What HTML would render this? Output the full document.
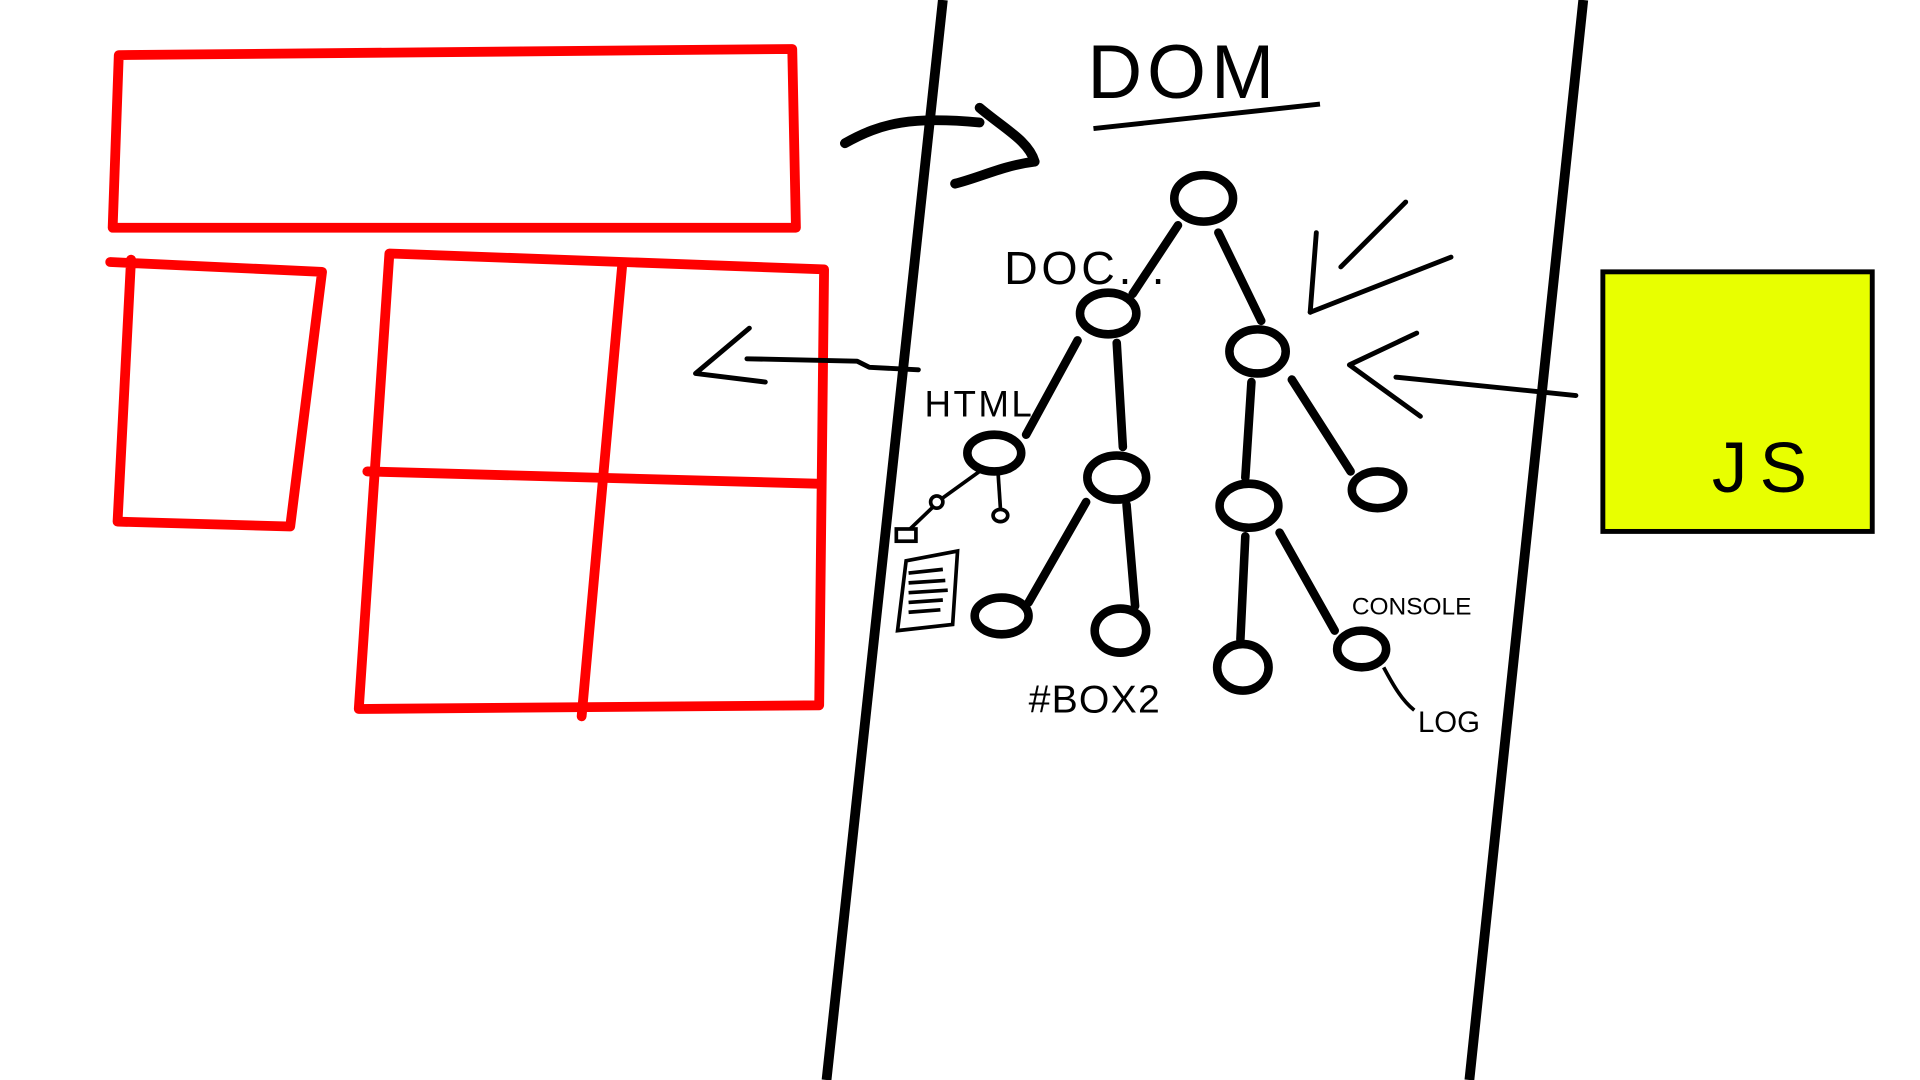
<!DOCTYPE html>
<html><head><meta charset="utf-8">
<style>
html,body{margin:0;padding:0;background:#fff;width:1920px;height:1080px;overflow:hidden}
svg{display:block}
text{font-family:"Liberation Sans",sans-serif;fill:#000}
</style></head>
<body>
<svg width="1920" height="1080" viewBox="0 0 1568 882" xmlns="http://www.w3.org/2000/svg">
<g fill="none" stroke="#ff0000" stroke-width="8" stroke-linejoin="round" stroke-linecap="round">
  <path d="M97 45 L647 40 L650 186 L92 186 Z"/>
  <path d="M90 214 L263 222 L237 430 L96 426 L107 212"/>
  <path d="M318 207 L673 220 L669 576 L293 579 Z"/>
  <path d="M300 385 L667 395"/>
  <path d="M508 218 L475 585"/>
</g>
<g stroke="#000" stroke-width="8" fill="none">
  <path d="M770 0 L675 882"/>
  <path d="M1293 0 L1200 882"/>
</g>
<g stroke="#000" stroke-width="8" fill="none" stroke-linecap="round" stroke-linejoin="round">
  <path d="M690 117 C720 100 745 95 800 100"/>
  <path d="M800 88 C820 105 840 115 845 132 C820 135 800 145 780 150"/>
</g>
<text x="888" y="80" font-size="62" letter-spacing="4">DOM</text>
<path d="M893 105 L1078 85" stroke="#000" stroke-width="4" fill="none"/>
<g stroke="#000" stroke-width="7" stroke-linecap="round">
  <line x1="962" y1="184" x2="925" y2="240"/>
  <line x1="995" y1="190" x2="1030" y2="262"/>
  <line x1="880" y1="278" x2="838" y2="355"/>
  <line x1="912" y1="280" x2="917" y2="365"/>
  <line x1="1022" y1="312" x2="1017" y2="390"/>
  <line x1="1055" y1="310" x2="1103" y2="385"/>
  <line x1="887" y1="410" x2="840" y2="492"/>
  <line x1="920" y1="412" x2="927" y2="495"/>
  <line x1="1017" y1="438" x2="1013" y2="522"/>
  <line x1="1045" y1="435" x2="1090" y2="515"/>
</g>
<g stroke="#000" stroke-width="7" fill="#fff">
  <ellipse cx="983" cy="162" rx="24" ry="19"/>
  <ellipse cx="905" cy="256" rx="23" ry="17"/>
  <ellipse cx="1027" cy="287" rx="23" ry="18"/>
  <ellipse cx="812" cy="370" rx="22" ry="15"/>
  <ellipse cx="912" cy="390" rx="24" ry="18"/>
  <ellipse cx="1020" cy="413" rx="24" ry="18"/>
  <ellipse cx="1125" cy="400" rx="21" ry="15"/>
  <ellipse cx="818" cy="503" rx="22" ry="15"/>
  <ellipse cx="915" cy="515" rx="21" ry="18"/>
  <ellipse cx="1015" cy="545" rx="21" ry="19"/>
  <ellipse cx="1112" cy="530" rx="20" ry="15"/>
</g>
<g stroke="#000" stroke-width="3" fill="#fff">
  <line x1="800" y1="385" x2="768" y2="408"/>
  <line x1="815" y1="385" x2="817" y2="415"/>
  <ellipse cx="817" cy="421" rx="6" ry="5"/>
  <ellipse cx="765" cy="410" rx="5" ry="5"/>
  <line x1="762" y1="414" x2="740" y2="435"/>
  <rect x="732" y="432" width="16" height="10"/>
  <path d="M740 458 L782 450 L778 510 L733 515 Z M742 468 L770 465 M742 476 L772 474 M742 484 L774 482 M742 492 L770 490 M742 500 L768 498" fill="none"/>
  <path d="M1130 545 C1138 560 1145 572 1155 580" fill="none"/>
</g>
<text x="820" y="232" font-size="38" letter-spacing="3">DOC...</text>
<text x="755" y="340" font-size="30" letter-spacing="2">HTML</text>
<text x="840" y="582" font-size="32" letter-spacing="1">#BOX2</text>
<text x="1104" y="502" font-size="20">CONSOLE</text>
<text x="1158" y="598" font-size="24">LOG</text>
<g stroke="#000" stroke-width="4" fill="none" stroke-linecap="round" stroke-linejoin="round">
  <path d="M610 293 L700 295 L710 300 L750 302"/>
  <path d="M612 268 L568 305 L625 312"/>
</g>
<g stroke="#000" stroke-width="4" fill="none" stroke-linecap="round" stroke-linejoin="round">
  <path d="M1140 308 L1287 323"/>
  <path d="M1157 272 L1102 298 L1160 340"/>
</g>
<g stroke="#000" stroke-width="4" fill="none" stroke-linecap="round">
  <path d="M1148 165 L1095 218"/>
  <path d="M1185 210 L1070 255"/>
  <path d="M1075 190 L1070 255"/>
</g>
<rect x="1309" y="222" width="220" height="212" fill="#e8ff00" stroke="#000" stroke-width="4"/>
<text x="1398" y="402" font-size="58" letter-spacing="10">JS</text>
</svg>
</body></html>
